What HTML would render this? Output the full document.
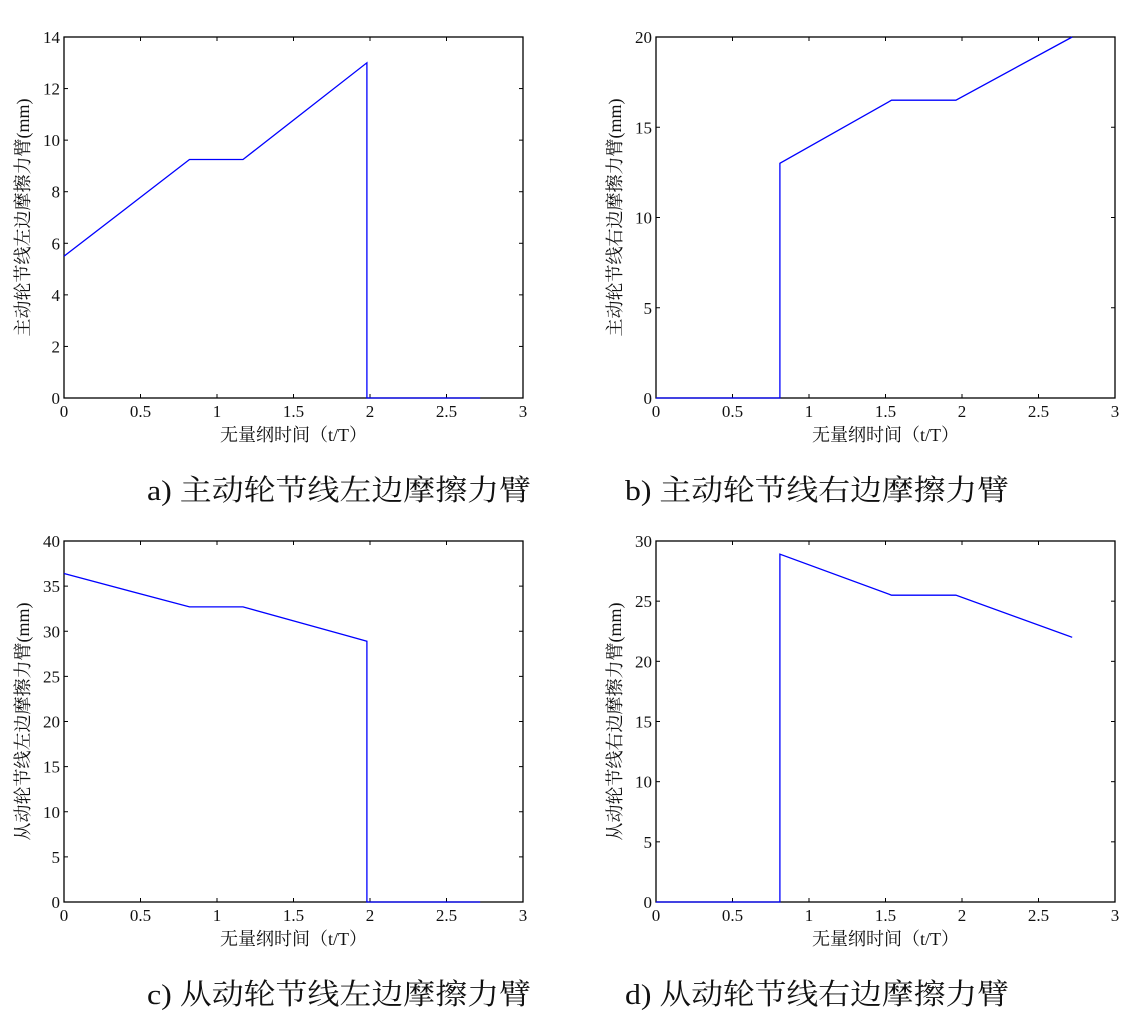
<!DOCTYPE html>
<html><head><meta charset="utf-8">
<style>
body{margin:0;background:#fff;}
svg text{font-family:"Liberation Serif","Noto Serif CJK SC","Noto Sans CJK SC",serif;fill:#111;}
</style></head>
<body>
<svg id="fig" width="1138" height="1027" viewBox="0 0 1138 1027" xmlns="http://www.w3.org/2000/svg"></svg>
<script>
const xTicks=[0,0.5,1,1.5,2,2.5,3];
const xTickLabels=["0","0.5","1","1.5","2","2.5","3"];
const aX=[0,0.82,1.17,1.98,1.98,2.72];
const aY=[5.5,9.25,9.25,13,0,0];
const bX=[0,0.81,0.81,1.54,1.96,2.72];
const bY=[0,0,13,16.5,16.5,20];
const cX=[0,0.82,1.17,1.98,1.98,2.72];
const cY=[36.4,32.7,32.7,28.9,0,0];
const dX=[0,0.81,0.81,1.54,1.96,2.72];
const dY=[0,0,28.9,25.5,25.5,22];
const aYTicks=[0,2,4,6,8,10,12,14];
const bYTicks=[0,5,10,15,20];
const cYTicks=[0,5,10,15,20,25,30,35,40];
const dYTicks=[0,5,10,15,20,25,30];
const ylabels=["主动轮节线左边摩擦力臂(mm)","主动轮节线右边摩擦力臂(mm)","从动轮节线左边摩擦力臂(mm)","从动轮节线右边摩擦力臂(mm)"];
const captions=["a)  主动轮节线左边摩擦力臂","b)  主动轮节线右边摩擦力臂","c)  从动轮节线左边摩擦力臂","d)  从动轮节线右边摩擦力臂"];
const xlabel="无量纲时间（t/T）";

const NS="http://www.w3.org/2000/svg";
const svg=document.getElementById('fig');
function mk(tag,attrs,parent){const e=document.createElementNS(NS,tag);for(const k in attrs)e.setAttribute(k,attrs[k]);(parent||svg).appendChild(e);return e;}

const panels=[
 {key:'a',L:64,R:523,T:37,B:398,xs:aX,ys:aY,yt:aYTicks,ymax:14,capX:147,capY:500},
 {key:'b',L:656,R:1115,T:37,B:398,xs:bX,ys:bY,yt:bYTicks,ymax:20,capX:625,capY:500},
 {key:'c',L:64,R:523,T:541,B:902,xs:cX,ys:cY,yt:cYTicks,ymax:40,capX:147,capY:1004},
 {key:'d',L:656,R:1115,T:541,B:902,xs:dX,ys:dY,yt:dYTicks,ymax:30,capX:625,capY:1004}
];
panels.forEach((p,i)=>{
 const g=mk('g',{});
 
 
 const sx=v=>p.L+(v-0)/(3-0)*(p.R-p.L);
 const sy=v=>p.B-(v-0)/(p.ymax-0)*(p.B-p.T);
 const box=mk('rect',{x:p.L,y:p.T,width:p.R-p.L,height:p.B-p.T,fill:'#fff',stroke:'#000','stroke-width':1.3},g);
 
 
 xTicks.forEach((t,j)=>{
  const x=sx(t);
  mk('line',{x1:x,x2:x,y1:p.B,y2:p.B-4,stroke:'#000'},g);
  mk('line',{x1:x,x2:x,y1:p.T,y2:p.T+4,stroke:'#000'},g);
  const tx=mk('text',{x:x,y:p.B+19,'font-size':17,'text-anchor':'middle'},g);
  tx.textContent=xTickLabels[j];
  
  
 });
 p.yt.forEach(t=>{
  const y=sy(t);
  mk('line',{x1:p.L,x2:p.L+4,y1:y,y2:y,stroke:'#000'},g);
  mk('line',{x1:p.R,x2:p.R-4,y1:y,y2:y,stroke:'#000'},g);
  const tx=mk('text',{x:p.L-4,y:y+6,'font-size':17,'text-anchor':'end'},g);
  tx.textContent=String(t);
  
  
 });
 const pts=p.xs.map((x,k)=>sx(x).toFixed(1)+','+sy(p.ys[k]).toFixed(1)).join(' ');
 const line=mk('polyline',{points:pts,fill:'none',stroke:'#0000ff','stroke-width':1.3},g);
 
 
 const xl=mk('text',{x:(p.L+p.R)/2,y:p.B+43,'font-size':18,'text-anchor':'middle'},g);
 xl.textContent=xlabel;
 
 
 const cy=(p.T+p.B)/2, cx=p.L-41;
 const yl=mk('text',{x:cx,y:cy,'font-size':18,'text-anchor':'middle',transform:`rotate(-90 ${cx} ${cy})`,'dominant-baseline':'central'},g);
 yl.textContent=ylabels[i];
 
 
 const cap=mk('text',{x:p.capX,y:p.capY,'font-size':29,'textLength':384,'lengthAdjust':'spacingAndGlyphs'},g);
 cap.textContent=captions[i];
 
 
});
</script>
</body></html>
